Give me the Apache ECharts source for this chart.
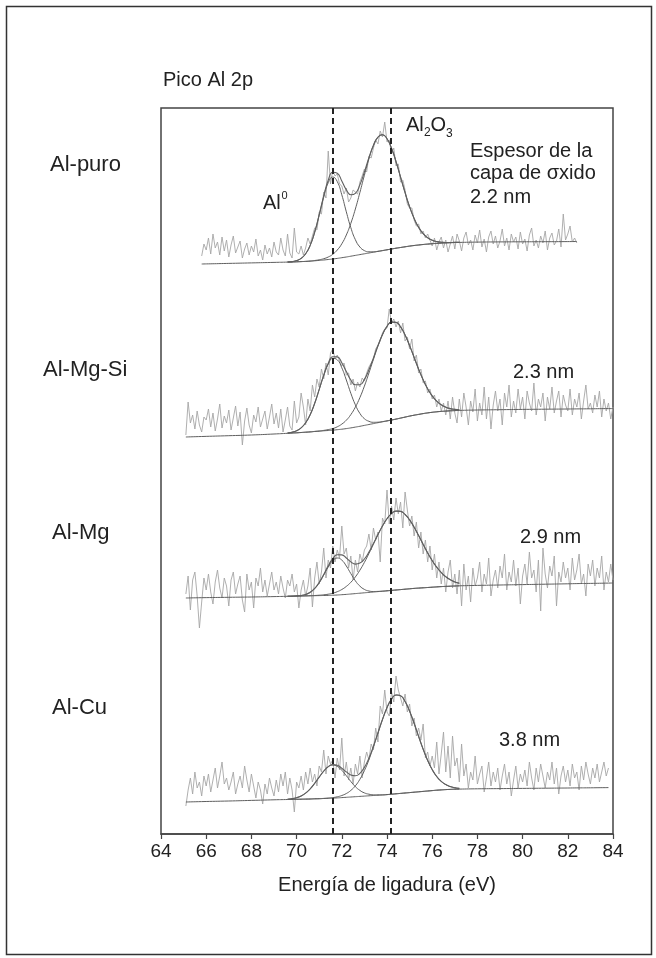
<!DOCTYPE html>
<html><head><meta charset="utf-8">
<script src="https://cdn.jsdelivr.net/npm/echarts@6/dist/echarts.min.js"></script>
<style>html,body{margin:0;padding:0;background:#fff}#c{width:656px;height:958px}</style>
</head><body><div id="c"></div>
<script>
// ---- text ----
const chartTitle = 'Pico Al 2p';
const axisTitle = 'Energía de ligadura (eV)';
const sampleNames = ['Al-puro', 'Al-Mg-Si', 'Al-Mg', 'Al-Cu'];
const thicknessNote = ['Espesor de la', 'capa de σxido'];
const thicknessLabels = ['2.2 nm', '2.3 nm', '2.9 nm', '3.8 nm'];
// ---- axis ----
const xMin = 64, xMax = 84, xStep = 2;
const yMin = 0, yMax = 726;
// reference peak positions (eV): Al0 and Al2O3
const peakPositions = [71.6, 74.15];
// vertical offset of each stacked spectrum (a.u.)
const offsets = [570, 397, 236, 32];
// ---- raw spectra (0.1 eV step) ----
const rawStart = [65.8, 65.1, 65.1, 65.1];
const rawStepEV = 0.1;
const raw1 = [8,20,14,26,10,30,16,22,9,27, 13,24,7,19,28,11,17,23,6,15, 21,9,18,12,25,8,14,4,19,10, 16,7,22,12,9,26,14,8,30,11,
 6,36,12,10,18,9,16,26,20,28, 36,34,52,50,72,66,113,80,94,88, 90,80,78,70,76,62,66,74,72,70, 82,88,95,92,108,106,116,124,120,133,
 127,142,122,124,110,116,98,100,82,84, 74,60,56,56,44,38,40,30,33,26, 30,24,18,26,14,22,27,16,24,12, 20,28,15,30,23,13,26,32,19,24,
 14,29,21,34,17,25,12,27,33,20, 28,16,23,35,18,26,14,30,22,27, 15,32,20,25,13,29,36,18,24,16, 28,21,33,14,26,31,19,23,35,17,
 50,24,30,38,22,26,21];
const raw2 = [2,35,14,22,8,26,12,5,20,17, 28,10,24,6,18,33,9,21,14,27, 7,19,31,11,25,-8,16,29,12,4, 22,15,30,10,18,26,8,20,33,13,
 24,9,28,5,17,30,11,7,36,14, 20,44,30,12,38,26,52,40,58,50, 68,58,74,62,84,88,78,82,76,71, 74,62,64,52,58,46,55,50,59,56,
 64,70,74,78,88,92,96,104,108,109, 128,114,118,110,116,104,114,96,100,88, 98,76,82,64,68,54,56,44,48,38, 42,30,38,26,34,22,36,18,40,24,
 14,38,20,44,30,12,36,25,48,16, 34,22,50,18,40,8,32,46,26,38, 12,44,30,52,20,36,24,48,28,40, 18,46,34,26,54,22,38,30,44,16,
 40,28,50,24,36,46,20,42,32,26, 48,22,38,30,44,18,36,52,28,34, 24,42,30,46,20,38,26,34,18,30];
const raw3 = [4,22,-12,18,26,2,-30,-4,20,8, 24,6,-6,16,28,10,0,20,12,-8, 18,26,4,14,22,-2,-14,24,8,16, -10,20,12,30,6,18,2,14,26,8,
 16,4,22,10,0,18,12,24,6,14, -10,8,18,2,12,30,-9,20,36,14, 26,50,20,38,30,52,36,48,40,72, 44,50,30,42,18,38,26,44,36,48,
 52,64,48,70,58,66,36,80,74,108, 74,92,78,100,84,96,70,106,88,72, 82,62,76,50,66,44,58,36,52,28, 44,20,36,14,30,6,26,38,10,24,
 4,28,-8,34,8,22,-4,30,12,20, 36,6,24,14,40,2,18,28,10,32, 20,44,8,26,16,38,12,30,-6,22, 34,14,46,20,28,6,38,-13,50,24,
 10,32,22,42,-8,26,16,36,20,30, 8,40,18,28,44,14,24,2,34,22, 38,12,30,20,42,8,26,16,34,18];
const raw4 = [-4,12,24,8,30,14,20,6,26,16, 28,10,22,34,14,26,40,18,24,12, 20,30,8,18,26,14,36,22,10,28, 16,4,20,12,-2,18,8,24,14,6,
 22,10,28,16,30,8,24,12,-10,20, 14,26,12,30,18,34,20,28,16,36, 30,52,28,46,38,42,24,44,32,64, 26,40,22,34,18,38,28,46,24,40,
 50,42,58,52,74,60,96,88,112,90, 86,110,100,126,112,104,96,108,90,98, 76,84,66,74,62,78,44,50,36,46, 34,60,28,48,70,30,56,24,66,36,
 44,20,58,26,38,14,30,22,46,18, 28,36,10,24,40,16,30,20,34,12, 26,38,18,30,6,22,36,14,28,20, 32,16,40,24,12,34,20,38,26,14,
 30,22,40,18,34,8,26,36,20,32, 16,38,24,30,12,36,22,40,28,18, 34,24,38,20,30,40,26,34];
// ---- fit grid (eV) ----
const fitX = [65.1,65.8,67,68,69,69.6,69.8,70,70.2,70.4,70.6,70.8,71,71.2,71.4,71.6,71.8,72,72.2,72.4,72.6,72.8,73,73.2,73.4,73.6,73.8,74,74.2,74.4,74.6,74.8,75,75.2,75.4,75.6,75.8,76,76.2,76.4,76.6,76.8,77,77.2,78,79,80,81,82,82.4,83,83.8,84];
const fineFirst = 5; // fitX index of 69.6, start of the component grid
// Shirley-type baselines on fitX
const base1 = [0,0,0.6,1.1,1.6, 1.9,2.0,2.2,2.4,2.6,2.9,3.2,3.6,4.0,4.5,5.0,5.6,6.3,7.0,7.8,8.6,9.4,10.2,11.0,11.8,12.6,13.4,14.2,15.0,15.8,16.5,17.2,17.9,18.5,19.0,19.5,19.9,20.3,20.6,20.9,21.1,21.3,21.5,21.6, 21.9,22.1,22.2,22.3,22.4,22.5,22.5,22.5,22.5];
const base2 = [0,0.5,1.3,2.0,3.0, 3.7,4.0,4.2,4.5,4.8,5.1,5.5,5.8,6.2,6.5,6.8,7.3,7.8,8.4,9.1,9.9,10.7,11.6,12.5,13.4,14.3,15.2,16.1,17.0,17.9,18.9,19.9,20.9,21.8,22.6,23.4,24.1,24.7,25.2,25.6,25.9,26.2,26.4,26.6, 27.0,27.3,27.6,27.8,28.0,28.1,28.2,28.4,28.4];
const base3 = [0,0.3,0.7,1.0,1.4, 1.7,1.8,1.9,2.0,2.1,2.2,2.3,2.4,2.5,2.6,2.8,3.0,3.3,3.6,4.0,4.4,4.8,5.2,5.6,6.0,6.4,6.8,7.2,7.6,8.0,8.4,8.8,9.2,9.6,9.9,10.2,10.5,10.8,11.1,11.4,11.6,11.8,12.0,12.2, 12.6,13.0,13.4,13.8,14.2,14.4,14.6,14.9,15.0];
const base4 = [0,0.4,1.0,1.6,2.2, 2.5,2.6,2.7,2.8,2.9,3.0,3.2,3.3,3.5,3.7,3.9,4.1,4.4,4.7,5.0,5.3,5.6,5.9,6.2,6.5,6.8,7.1,7.4,7.8,8.2,8.6,9.0,9.4,9.8,10.2,10.6,11.0,11.4,11.8,12.1,12.4,12.6,12.8,12.9, 13.2,13.4,13.6,13.8,14.0,14.1,14.2,14.4,14.4];
// Al0 (metal) fitted component, above baseline, 69.6..77.2 eV
const al0Fit1 = [0.1,0.4,1.2,3.2,7.6,15.7,28.5,45.2,62.9,76.8,82,76.8,62.9,45.2,28.5,15.7,7.6,3.2,1.2,0.4,0.1,0,0,0,0,0,0,0,0,0,0,0,0,0,0,0,0,0,0];
const al0Fit2 = [0.3,0.8,2.1,4.7,9.4,17.2,28.1,41.6,55.3,66.4,71.8,69.9,61.4,48.6,34.6,22.3,12.9,6.7,3.2,1.3,0.5,0.2,0,0,0,0,0,0,0,0,0,0,0,0,0,0,0,0,0];
const al0Fit3 = [0,0,0.2,0.5,1.4,3.4,7.1,12.8,20.4,28.4,34.6,37,34.6,28.4,20.4,12.8,7.1,3.4,1.4,0.5,0.2,0,0,0,0,0,0,0,0,0,0,0,0,0,0,0,0,0,0];
const al0Fit4 = [0.3,0.7,1.6,3.2,6.0,10.1,15.5,21.6,27.3,31.5,33,31.5,27.3,21.6,15.5,10.1,6.0,3.2,1.6,0.7,0.3,0,0,0,0,0,0,0,0,0,0,0,0,0,0,0,0,0,0];
// Al2O3 (oxide) fitted component, above baseline, 69.6..77.2 eV
const oxFit1 = [0,0,0,0,0,0,0.3,0.6,1.3,2.5,4.7,8.4,13.9,22.0,32.9,46.4,62.1,78.6,94.1,106.6,114.2,115.8,111.1,100.8,86.6,70.4,54.1,39.3,27.1,17.6,10.9,6.3,3.5,1.8,0.9,0.4,0.2,0.1,0];
const oxFit2 = [0,0,0,0,0,0,0.1,0.2,0.4,0.9,1.6,2.9,5.1,8.4,13.3,20,28.7,39.3,51.5,64.3,76.6,87.1,94.5,97.9,96.7,91.2,82.1,70.5,57.8,45.2,33.8,24.1,16.4,10.6,6.6,3.9,2.2,1.2,0.6];
const oxFit3 = [0,0,0,0,0,0.1,0.2,0.4,0.7,1.2,2.0,3.3,5.2,8.0,11.7,16.7,23,30.4,38.9,47.9,56.9,65.2,72.1,76.8,78.9,78.2,74.7,68.9,61.2,52.5,43.4,34.6,26.6,19.7,14.1,9.7,6.5,4.1,2.6];
const oxFit4 = [0,0,0,0,0,0,0,0,0.1,0.2,0.5,1.1,2.1,3.8,6.6,10.9,17.1,25.5,36.1,48.6,62.1,75.4,86.9,95.1,98.8,97.6,91.5,81.4,68.9,55.3,42.2,30.5,21.0,13.7,8.5,5.0,2.8,1.5,0.7];

const rawAll = [raw1, raw2, raw3, raw4];
const baseAll = [base1, base2, base3, base4];
const al0All = [al0Fit1, al0Fit2, al0Fit3, al0Fit4];
const oxAll = [oxFit1, oxFit2, oxFit3, oxFit4];

const FONT = "'Liberation Sans', Arial, Helvetica, sans-serif";
const RAW_COLOR = '#a6a6a6', FIT_COLOR = '#5f5f5f', INK = '#222';

const series = [];
function lineSeries(data, color, width, smooth, z) {
  return { type: 'line', data, showSymbol: false, symbol: 'none', smooth: smooth,
    lineStyle: { color, width }, z, silent: true, animation: false };
}
for (let k = 0; k < 4; k++) {
  const off = offsets[k], raw = rawAll[k], x0 = rawStart[k];
  const rawPts = raw.map((v, i) => [Math.round((x0 + i * rawStepEV) * 100) / 100, v + off]);
  const xEnd = rawPts[rawPts.length - 1][0];
  const base = baseAll[k], a = al0All[k], o = oxAll[k];
  const basePts = [];
  fitX.forEach((x, j) => { if (x >= x0 - 1e-6 && x <= xEnd + 1e-6) basePts.push([x, base[j] + off]); });
  const aPts = a.map((v, i) => [fitX[fineFirst + i], base[fineFirst + i] + v + off]);
  const oPts = o.map((v, i) => [fitX[fineFirst + i], base[fineFirst + i] + v + off]);
  const ePts = a.map((v, i) => [fitX[fineFirst + i], base[fineFirst + i] + v + o[i] + off]);
  series.push(lineSeries(rawPts, RAW_COLOR, 0.9, false, 2));
  series.push(lineSeries(basePts, FIT_COLOR, 1, true, 3));
  series.push(lineSeries(aPts, FIT_COLOR, 1, true, 3));
  series.push(lineSeries(oPts, FIT_COLOR, 1, true, 3));
  series.push(lineSeries(ePts, FIT_COLOR, 1.1, true, 3));
}
// dashed reference lines
series.push({ type: 'line', data: [], z: 5, silent: true, animation: false,
  markLine: { silent: true, symbol: 'none', animation: false, label: { show: false },
    lineStyle: { color: INK, width: 2, type: [6, 4] },
    data: peakPositions.map(v => ({ xAxis: v })) } });

function txt(text, x, y, size, align) {
  return { type: 'text', x, y, silent: true, z: 10,
    style: { text, font: size + 'px ' + FONT, fill: INK, textAlign: align || 'left', textVerticalAlign: 'middle' } };
}
const labelY = [165, 370, 533, 708];
const labelX = [50, 43, 52, 52];
const thickPos = [[470, 197], [513, 372], [520, 537], [499, 740]];
const graphic = [
  { type: 'rect', shape: { x: 6.5, y: 6.5, width: 645, height: 948 }, style: { fill: 'none', stroke: '#333', lineWidth: 1.5 }, silent: true },
  txt(chartTitle, 163, 80, 20),
  txt(axisTitle, 387, 885, 20, 'center'),
  txt(thicknessNote[0], 470, 151, 20),
  txt(thicknessNote[1], 470, 173, 20),
  txt('Al', 263, 203, 20), txt('0', 281.5, 196, 11),
  txt('Al', 406, 125, 20), txt('2', 424, 133, 12), txt('O', 430.5, 125, 20), txt('3', 446, 134, 12)
];
sampleNames.forEach((s, i) => graphic.push(txt(s, labelX[i], labelY[i], 22)));
thicknessLabels.forEach((s, i) => graphic.push(txt(s, thickPos[i][0], thickPos[i][1], 20)));

const chart = echarts.init(document.getElementById('c'), null, { renderer: 'canvas' });
chart.setOption({
  animation: false,
  backgroundColor: '#fff',
  grid: { left: 161, right: 43, top: 108, bottom: 124, show: true, borderColor: '#444', borderWidth: 1.5, backgroundColor: 'transparent' },
  xAxis: { type: 'value', min: xMin, max: xMax, interval: xStep,
    axisLine: { lineStyle: { color: '#444', width: 1.5 } },
    axisTick: { show: true, length: 5, lineStyle: { color: '#444', width: 1.2 } },
    splitLine: { show: false },
    axisLabel: { fontSize: 19, color: INK, fontFamily: FONT, margin: 8 } },
  yAxis: { type: 'value', min: yMin, max: yMax, show: false, splitLine: { show: false } },
  series,
  graphic
});
</script></body></html>
